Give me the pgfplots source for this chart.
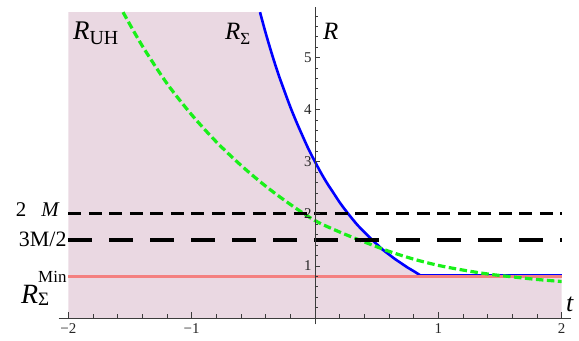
\documentclass[border=0pt]{standalone}
\usepackage{pgfplots}
\pgfplotsset{compat=1.18}
\usepackage{fontspec}
\setmainfont{Liberation Serif}
\definecolor{shade}{RGB}{234,216,226}
\definecolor{pinkline}{RGB}{244,128,128}
\definecolor{grn}{RGB}{25,240,25}
\definecolor{axgray}{RGB}{60,60,60}
\newcommand{\tl}[1]{{\fontsize{15}{15}\selectfont #1}}
\begin{document}
\begin{tikzpicture}
\useasboundingbox (-315bp,-23bp) rectangle (264bp,318bp);
\begin{axis}[
  anchor=origin, at={(0,0)},
  x=123.3bp, y=52.1bp,
  xmin=-2.08, xmax=2.08, ymin=-0.12, ymax=5.97,
  axis lines*=middle,
  axis on top,
  axis line style={axgray, line width=0.8bp},
  tick align=inside,
  xtick={-2,-1,1,2}, xticklabels={\tl{−2},\tl{−1},\tl{1},\tl{2}},
  minor xtick={-1.8,-1.6,-1.4,-1.2,-0.8,-0.6,-0.4,-0.2,0.2,0.4,0.6,0.8,1.2,1.4,1.6,1.8},
  ytick={1,2,3,4,5}, yticklabels={\tl{1},\tl{2},\tl{3},\tl{4},\tl{5}},
  minor ytick={0.2,0.4,0.6,0.8,1.2,1.4,1.6,1.8,2.2,2.4,2.6,2.8,3.2,3.4,3.6,3.8,4.2,4.4,4.6,4.8,5.2,5.4,5.6,5.8},
  major tick length=5.5bp, minor tick length=3.5bp,
  every tick/.style={axgray, line width=0.6bp},
  tick label style={text=black!85},
  xticklabel style={yshift=-2bp},
  clip=false,
]
% shaded region under R_Sigma
\addplot[fill=shade, draw=none] coordinates {
(-2,0) (-2,5.87) (-0.446,5.87) (-0.4,5.47) (-0.35,5.07) (-0.3,4.70) (-0.25,4.37)
(-0.2,4.05) (-0.15,3.76) (-0.1,3.49) (-0.05,3.23) (0,3.00) (0.05,2.78) (0.1,2.58)
(0.15,2.40) (0.2,2.22) (0.25,2.06) (0.3,1.91) (0.35,1.77) (0.4,1.65) (0.45,1.53)
(0.5,1.42) (0.55,1.31) (0.6,1.22) (0.65,1.13) (0.7,1.05) (0.75,0.97) (0.8,0.90)
(0.85,0.825) (2,0.825) (2,0)} -- cycle;
% R_Sigma (blue)
\addplot[blue, line width=2.6bp, smooth] coordinates {
(-0.446,5.87) (-0.4,5.47) (-0.35,5.07) (-0.3,4.70) (-0.25,4.37)
(-0.2,4.05) (-0.15,3.76) (-0.1,3.49) (-0.05,3.23) (0,3.00) (0.05,2.78) (0.1,2.58)
(0.15,2.40) (0.2,2.22) (0.25,2.06) (0.3,1.91) (0.35,1.77) (0.4,1.65) (0.45,1.53)
(0.5,1.42) (0.55,1.31) (0.6,1.22) (0.65,1.13) (0.7,1.05) (0.75,0.97) (0.8,0.90)
(0.85,0.825)};
\addplot[blue, line width=2bp] coordinates {(0.85,0.825) (2,0.825)};
% R_Sigma^Min (pink)
\addplot[pinkline, line width=3.4bp] coordinates {(-2,0.80) (2,0.80)};
% green dashed
\addplot[grn, line width=3.2bp, dash pattern=on 7.5bp off 3.5bp, smooth] coordinates {
(-1.557,5.87) (-1.4,5.22) (-1.2,4.50) (-1.0,3.90) (-0.8,3.38) (-0.6,2.93)
(-0.4,2.53) (-0.2,2.18) (0,1.87) (0.2,1.65) (0.4,1.46) (0.6,1.28) (0.8,1.13)
(1.0,1.01) (1.2,0.92) (1.4,0.845) (1.6,0.79) (1.8,0.74) (2.0,0.70)};
% 2M and 3M/2
\addplot[black, line width=3.4bp, dash pattern=on 13bp off 7.5bp] coordinates {(-2,2) (2,2)};
\addplot[black, line width=3.6bp, dash pattern=on 24bp off 17bp] coordinates {(-2,1.5) (2,1.5)};
% labels
\node[anchor=base west, inner sep=0, font=\fontsize{27}{27}\selectfont] at (axis cs:-1.963,5.34)
  {\textit{R}\raisebox{-5bp}{\fontsize{20}{20}\selectfont UH}};
\node[anchor=base west, inner sep=0, font=\fontsize{25}{25}\selectfont] at (axis cs:-0.73,5.34)
  {\textit{R}\raisebox{-5bp}{\fontsize{17}{17}\selectfont Σ}};
\node[anchor=base west, inner sep=0, font=\fontsize{25}{25}\selectfont] at (axis cs:0.065,5.336)
  {\textit{R}};
\node[anchor=base west, inner sep=0, font=\fontsize{26}{26}\selectfont] at (axis cs:2.035,0.134)
  {\textit{t}};
\node[anchor=base east, inner sep=0, font=\fontsize{21}{21}\selectfont] at (axis cs:-2.068,1.94)
  {2\hspace{15bp}\textit{M}};
\node[anchor=base east, inner sep=0, font=\fontsize{22}{22}\selectfont] at (axis cs:-2.014,1.37)
  {3M/2};
\node[anchor=base east, inner sep=0, font=\fontsize{28}{28}\selectfont] at (axis cs:-2.014,0.28)
  {\textit{R}\rlap{\raisebox{-2bp}{\fontsize{19}{19}\selectfont Σ}}\raisebox{21bp}{\fontsize{17}{17}\selectfont Min}};
\end{axis}
\end{tikzpicture}
\end{document}
